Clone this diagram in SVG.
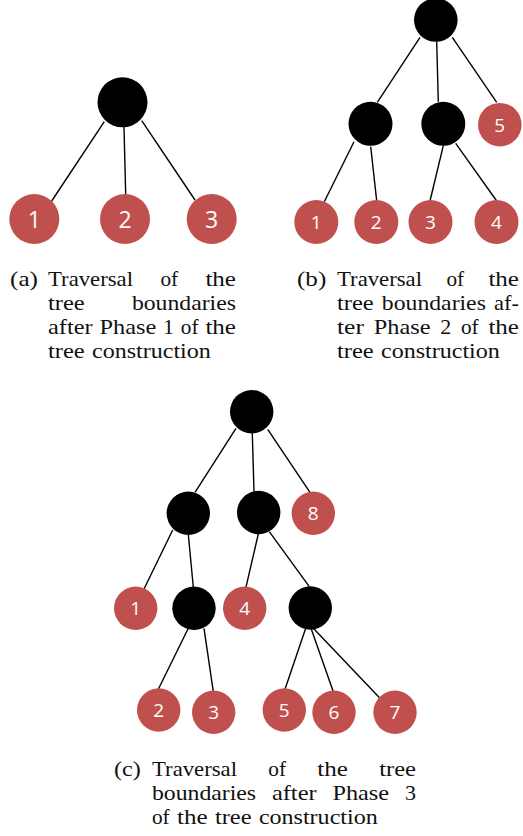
<svg xmlns="http://www.w3.org/2000/svg" width="523" height="836" viewBox="0 0 523 836">
  <style>
    .edge { stroke: #000; stroke-width: 1.4; fill: none; }
    .inner { fill: #000; }
    .leaf { fill: #C0504D; }
    .num { fill: #fff; font-family: "Open Sans", "Liberation Sans", sans-serif; text-anchor: middle; dominant-baseline: central; }
    .big { font-size: 23px; }
    .small { font-size: 19px; }
    .cap { fill: #111; font-family: "Liberation Serif", "DejaVu Serif", serif; font-size: 21px; }
  </style>
  <rect width="523" height="836" fill="#fff"/>

  <!-- tree (a): after phase 1 -->
  <g id="edges-a">
    <line class="edge" x1="104.3" y1="121.7" x2="51.7" y2="201"/>
    <line class="edge" x1="124" y1="126.7" x2="125.7" y2="195"/>
    <line class="edge" x1="141.7" y1="120.7" x2="195" y2="200"/>
  </g>
  <g id="a-root"><circle class="inner" cx="122.5" cy="102.3" r="25"/></g>
  <g id="a-leaf1"><circle class="leaf" cx="34.3" cy="219" r="25"/><text class="num big" x="34.3" y="219">1</text></g>
  <g id="a-leaf2"><circle class="leaf" cx="125" cy="219" r="25"/><text class="num big" x="125" y="219">2</text></g>
  <g id="a-leaf3"><circle class="leaf" cx="211.7" cy="219" r="25"/><text class="num big" x="211.7" y="219">3</text></g>

  <!-- tree (b): after phase 2 -->
  <g id="edges-b">
    <line class="edge" x1="420" y1="37.3" x2="377.3" y2="102.3"/>
    <line class="edge" x1="436.7" y1="41.7" x2="438.3" y2="101.7"/>
    <line class="edge" x1="452.3" y1="37.3" x2="496.7" y2="102.3"/>
    <line class="edge" x1="354" y1="141.7" x2="324.3" y2="201.7"/>
    <line class="edge" x1="370.7" y1="146.7" x2="376.7" y2="201"/>
    <line class="edge" x1="443.3" y1="145.7" x2="430" y2="201"/>
    <line class="edge" x1="455.7" y1="143.3" x2="496.7" y2="201"/>
  </g>
  <g id="b-root"><circle class="inner" cx="435.8" cy="20" r="21.8"/></g>
  <g id="b-left"><circle class="inner" cx="370.5" cy="123.8" r="22"/></g>
  <g id="b-right"><circle class="inner" cx="443.3" cy="123.8" r="22"/></g>
  <g id="b-leaf5"><circle class="leaf" cx="499.8" cy="124.7" r="21.8"/><text class="num small" x="499.8" y="124.7">5</text></g>
  <g id="b-leaf1"><circle class="leaf" cx="316.3" cy="222" r="22"/><text class="num small" x="316.3" y="222">1</text></g>
  <g id="b-leaf2"><circle class="leaf" cx="376.3" cy="222" r="22"/><text class="num small" x="376.3" y="222">2</text></g>
  <g id="b-leaf3"><circle class="leaf" cx="430.5" cy="222" r="22"/><text class="num small" x="430.5" y="222">3</text></g>
  <g id="b-leaf4"><circle class="leaf" cx="496.5" cy="222" r="22"/><text class="num small" x="496.5" y="222">4</text></g>

  <!-- tree (c): after phase 3 -->
  <g id="edges-c">
    <line class="edge" x1="236" y1="428.3" x2="195" y2="492.3"/>
    <line class="edge" x1="252.3" y1="433.3" x2="254" y2="491.7"/>
    <line class="edge" x1="267.7" y1="429.3" x2="310" y2="492.3"/>
    <line class="edge" x1="172.7" y1="530" x2="144" y2="589"/>
    <line class="edge" x1="188.3" y1="534.3" x2="193.3" y2="587.3"/>
    <line class="edge" x1="258.3" y1="534" x2="245.7" y2="588.3"/>
    <line class="edge" x1="269.3" y1="531.7" x2="309.3" y2="586.7"/>
    <line class="edge" x1="188.3" y1="628.3" x2="158.3" y2="689.3"/>
    <line class="edge" x1="204" y1="628.3" x2="213.3" y2="691.7"/>
    <line class="edge" x1="305.7" y1="628.3" x2="285" y2="689.3"/>
    <line class="edge" x1="311" y1="628.3" x2="333.3" y2="691.7"/>
    <line class="edge" x1="313.3" y1="628.3" x2="380" y2="698.3"/>
  </g>
  <g id="c-root"><circle class="inner" cx="251.7" cy="411.7" r="21.7"/></g>
  <g id="c-left"><circle class="inner" cx="188.3" cy="513.3" r="21.7"/></g>
  <g id="c-right"><circle class="inner" cx="258.7" cy="512.5" r="21.7"/></g>
  <g id="c-leaf8"><circle class="leaf" cx="313.3" cy="513.3" r="21.7"/><text class="num small" x="313.3" y="513.3">8</text></g>
  <g id="c-leaf1"><circle class="leaf" cx="135.7" cy="608.3" r="21.7"/><text class="num small" x="135.7" y="608.3">1</text></g>
  <g id="c-left-left"><circle class="inner" cx="194" cy="608.3" r="21.7"/></g>
  <g id="c-leaf4"><circle class="leaf" cx="244.7" cy="608.3" r="21.7"/><text class="num small" x="244.7" y="608.3">4</text></g>
  <g id="c-right-right"><circle class="inner" cx="310.3" cy="608" r="21.7"/></g>
  <g id="c-leaf2"><circle class="leaf" cx="158.7" cy="710" r="21.7"/><text class="num small" x="158.7" y="710">2</text></g>
  <g id="c-leaf3"><circle class="leaf" cx="213.7" cy="712.3" r="21.7"/><text class="num small" x="213.7" y="712.3">3</text></g>
  <g id="c-leaf5"><circle class="leaf" cx="284.3" cy="710" r="21.7"/><text class="num small" x="284.3" y="710">5</text></g>
  <g id="c-leaf6"><circle class="leaf" cx="334" cy="712.3" r="21.7"/><text class="num small" x="334" y="712.3">6</text></g>
  <g id="c-leaf7"><circle class="leaf" cx="395" cy="712.3" r="21.7"/><text class="num small" x="395" y="712.3">7</text></g>

  <!-- captions: justified lines, one text per word -->
  <g id="caption-a" class="cap" lengthAdjust="spacingAndGlyphs">
    <text x="10" y="286" textLength="28" lengthAdjust="spacingAndGlyphs">(a)</text>
    <text x="48" y="286" textLength="85" lengthAdjust="spacingAndGlyphs">Traversal</text>
    <text x="160.4" y="286" textLength="17.7" lengthAdjust="spacingAndGlyphs">of</text>
    <text x="205.4" y="286" textLength="30.6" lengthAdjust="spacingAndGlyphs">the</text>
    <text x="48" y="310" textLength="36.7" lengthAdjust="spacingAndGlyphs">tree</text>
    <text x="131.9" y="310" textLength="104.1" lengthAdjust="spacingAndGlyphs">boundaries</text>
    <text x="48" y="334" textLength="44.7" lengthAdjust="spacingAndGlyphs">after</text>
    <text x="99.5" y="334" textLength="56.7" lengthAdjust="spacingAndGlyphs">Phase</text>
    <text x="163" y="334" textLength="11" lengthAdjust="spacingAndGlyphs">1</text>
    <text x="180.8" y="334" textLength="17.7" lengthAdjust="spacingAndGlyphs">of</text>
    <text x="205.4" y="334" textLength="30.6" lengthAdjust="spacingAndGlyphs">the</text>
    <text x="48" y="358" textLength="36.7" lengthAdjust="spacingAndGlyphs">tree</text>
    <text x="92" y="358" textLength="118.8" lengthAdjust="spacingAndGlyphs">construction</text>
  </g>
  <g id="caption-b" class="cap">
    <text x="297" y="286" textLength="29.3" lengthAdjust="spacingAndGlyphs">(b)</text>
    <text x="337" y="286" textLength="85" lengthAdjust="spacingAndGlyphs">Traversal</text>
    <text x="446.4" y="286" textLength="17.7" lengthAdjust="spacingAndGlyphs">of</text>
    <text x="488.4" y="286" textLength="30.6" lengthAdjust="spacingAndGlyphs">the</text>
    <text x="337" y="310" textLength="36.7" lengthAdjust="spacingAndGlyphs">tree</text>
    <text x="381.8" y="310" textLength="104.1" lengthAdjust="spacingAndGlyphs">boundaries</text>
    <text x="494" y="310" textLength="25" lengthAdjust="spacingAndGlyphs">af-</text>
    <text x="337" y="334" textLength="27" lengthAdjust="spacingAndGlyphs">ter</text>
    <text x="373.8" y="334" textLength="56.7" lengthAdjust="spacingAndGlyphs">Phase</text>
    <text x="440.2" y="334" textLength="11" lengthAdjust="spacingAndGlyphs">2</text>
    <text x="461" y="334" textLength="17.7" lengthAdjust="spacingAndGlyphs">of</text>
    <text x="488.4" y="334" textLength="30.6" lengthAdjust="spacingAndGlyphs">the</text>
    <text x="337" y="358" textLength="36.7" lengthAdjust="spacingAndGlyphs">tree</text>
    <text x="381" y="358" textLength="118.8" lengthAdjust="spacingAndGlyphs">construction</text>
  </g>
  <g id="caption-c" class="cap">
    <text x="114" y="776" textLength="26.9" lengthAdjust="spacingAndGlyphs">(c)</text>
    <text x="152" y="776" textLength="85" lengthAdjust="spacingAndGlyphs">Traversal</text>
    <text x="268.3" y="776" textLength="17.7" lengthAdjust="spacingAndGlyphs">of</text>
    <text x="317.3" y="776" textLength="30.6" lengthAdjust="spacingAndGlyphs">the</text>
    <text x="379.3" y="776" textLength="36.7" lengthAdjust="spacingAndGlyphs">tree</text>
    <text x="152" y="800" textLength="104.1" lengthAdjust="spacingAndGlyphs">boundaries</text>
    <text x="271.9" y="800" textLength="44.7" lengthAdjust="spacingAndGlyphs">after</text>
    <text x="332.4" y="800" textLength="56.7" lengthAdjust="spacingAndGlyphs">Phase</text>
    <text x="405" y="800" textLength="11" lengthAdjust="spacingAndGlyphs">3</text>
    <text x="152" y="824" textLength="17.7" lengthAdjust="spacingAndGlyphs">of</text>
    <text x="177" y="824" textLength="30.6" lengthAdjust="spacingAndGlyphs">the</text>
    <text x="214.9" y="824" textLength="36.7" lengthAdjust="spacingAndGlyphs">tree</text>
    <text x="258.9" y="824" textLength="118.8" lengthAdjust="spacingAndGlyphs">construction</text>
  </g>
</svg>
